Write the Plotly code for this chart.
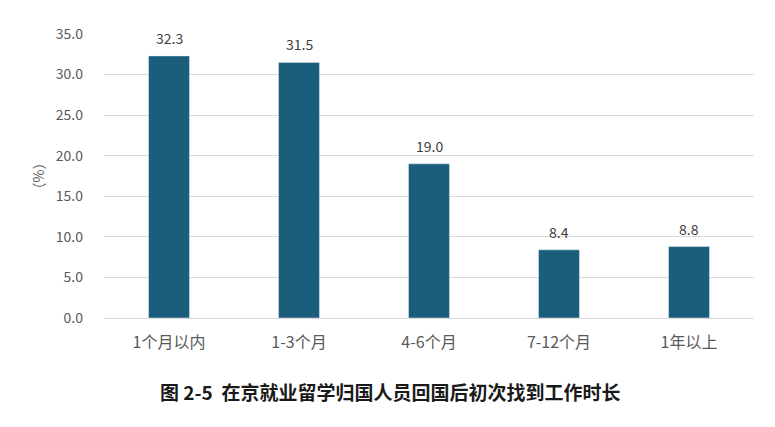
import plotly.graph_objects as go

categories = ['1个月以内', '1-3个月', '4-6个月', '7-12个月', '1年以上']
values = [32.3, 31.5, 19.0, 8.4, 8.8]
y_ticks = [0, 5, 10, 15, 20, 25, 30, 35]

font_cn = 'Noto Sans CJK SC'

fig = go.Figure()
fig.add_trace(go.Bar(
    x=categories,
    y=values,
    marker_color='#1b5e7b',
    width=0.315,
))

# value labels sit a little above each bar
labels = [dict(
    x=c, y=v, text=f'{v:.1f}',
    xref='x', yref='y',
    yshift=18, yanchor='middle',
    showarrow=False,
    font=dict(family=font_cn, size=14, color='#404040'),
) for c, v in zip(categories, values)]

labels.append(dict(
    text='<b>图 2-5  在京就业留学归国人员回国后初次找到工作时长</b>',
    xref='paper', yref='paper',
    x=0.44, y=-0.26,
    xanchor='center', yanchor='middle',
    showarrow=False,
    font=dict(family=font_cn, size=19, color='#1a1a1a'),
))

fig.update_layout(
    width=775,
    height=427,
    margin=dict(l=96, r=29, t=26, b=117),
    plot_bgcolor='white',
    paper_bgcolor='white',
    showlegend=False,
    font=dict(family=font_cn, color='#595959'),
    xaxis=dict(
        automargin=False,
        tickfont=dict(family=font_cn, size=16, color='#595959'),
        showline=True,
        linecolor='#d9d9d9',
        linewidth=1,
        ticks='',
        ticklabelstandoff=10,
    ),
    yaxis=dict(
        automargin=False,
        range=[0, 35],
        tickvals=y_ticks,
        tickformat='.1f',
        tickfont=dict(family=font_cn, size=14, color='#595959'),
        showgrid=True,
        gridcolor='#d9d9d9',
        zeroline=False,
        ticklabelstandoff=20,
        title=dict(text='（%）', font=dict(family=font_cn, size=14, color='#595959'), standoff=7),
    ),
    annotations=labels,
)

fig.write_html("out.html")
